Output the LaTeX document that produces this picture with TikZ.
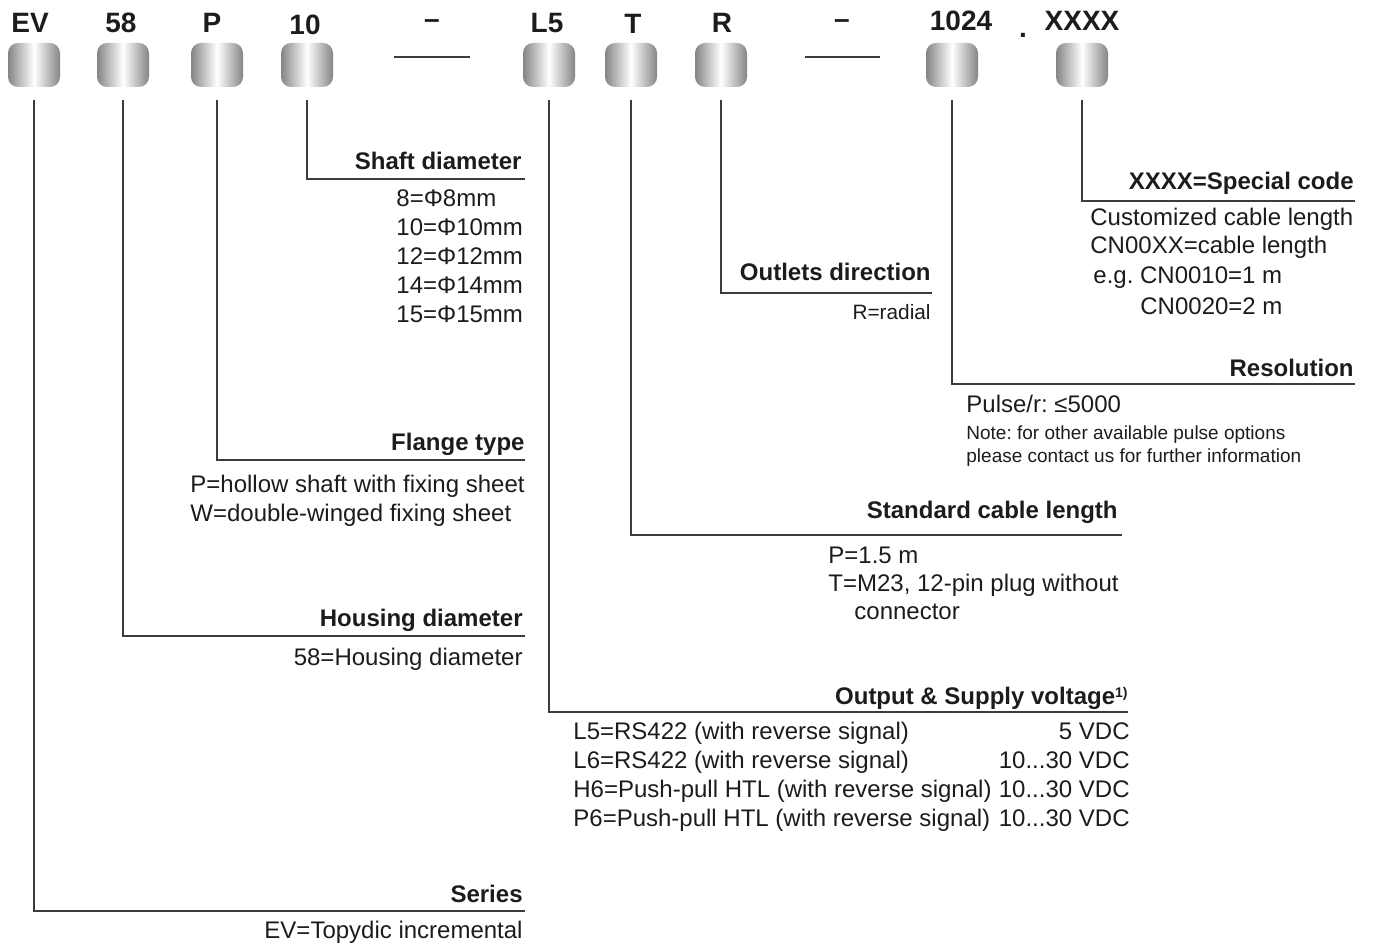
\documentclass[tikz,border=0pt]{standalone}
\usepackage{fontspec}
\setmainfont{Liberation Sans}
\frenchspacing
\definecolor{txt}{HTML}{1C1C1C}
\definecolor{ln}{HTML}{3C3C3C}
\definecolor{pill}{HTML}{858585}
\begin{document}
\begin{tikzpicture}[x=0.5pt,y=-0.5pt,
  pillbox/.style={rounded corners=5pt,minimum width=26pt,minimum height=22pt,inner sep=0pt,
    left color=pill,right color=pill,middle color=white,draw=none},
  code/.style={font=\fontsize{14}{16}\selectfont\bfseries,text=txt,inner sep=0pt,anchor=base},
  title/.style={font=\fontsize{12}{14}\selectfont\bfseries,text=txt,inner sep=0pt,anchor=base east},
  body/.style={font=\fontsize{12}{14}\selectfont,text=txt,inner sep=0pt,anchor=base west},
  bodyr/.style={font=\fontsize{12}{14}\selectfont,text=txt,inner sep=0pt,anchor=base east},
  small/.style={font=\fontsize{9.5}{11}\selectfont,text=txt,inner sep=0pt,anchor=base west},
  smallr/.style={font=\fontsize{10.4}{12}\selectfont,text=txt,inner sep=0pt,anchor=base east},
  conn/.style={draw=ln,line width=1pt},
  sep/.style={draw=ln,line width=1.2pt}]
\useasboundingbox (0,0) rectangle (1374,945);
% pills
\node[pillbox] (ev) at (34,65) {};
\node[pillbox] (hd) at (123,65) {};
\node[pillbox] (fl) at (217,65) {};
\node[pillbox] (sd) at (307,65) {};
\node[pillbox] (out) at (549,65) {};
\node[pillbox] (cab) at (631,65) {};
\node[pillbox] (dir) at (721,65) {};
\node[pillbox] (res) at (952,65) {};
\node[pillbox] (spc) at (1082,65) {};
% codes
\node[code] (cev) at (30,33) {EV};
\node[code] (chd) at (121,33) {58};
\node[code] (cfl) at (212,33) {P};
\node[code] (csd) at (305,35) {10};
\node[code] (cd1) at (432,29) {–};
\node[code] (cout) at (547,33) {L5};
\node[code] (ccab) at (633,34) {T};
\node[code] (cdir) at (722,33) {R};
\node[code] (cd2) at (842,29) {–};
\node[code] (cres) at (961,31) {1024};
\node[code] (cdot) at (1023,38) {.};
\node[code] (cspc) at (1082,31) {XXXX};
% separator lines
\coordinate (s1a) at (394,57); \coordinate (s1b) at (470,57);
\coordinate (s2a) at (805,57); \coordinate (s2b) at (880,57);
\draw[sep] (s1a) -- (s1b);
\draw[sep] (s2a) -- (s2b);
% line ends
\coordinate (eev) at (525,911);
\coordinate (ehd) at (525,636);
\coordinate (efl) at (525,460);
\coordinate (esd) at (525,179);
\coordinate (eout) at (1128,712);
\coordinate (ecab) at (1122,535);
\coordinate (edir) at (932,293);
\coordinate (eres) at (1355,384);
\coordinate (espc) at (1355,201);
\foreach \p in {ev,hd,fl,sd,out,cab,dir,res,spc}
  \draw[conn] (\p.south) ++(0,13) |- (e\p);
% Shaft diameter
\node[title] (tsd) at (522,170) {Shaft diameter};
\node[body] (sd1) at (396,207) {8=Φ8mm};
\node[body] (sd2) at (396,236) {10=Φ10mm};
\node[body] (sd3) at (396,265) {12=Φ12mm};
\node[body] (sd4) at (396,294) {14=Φ14mm};
\node[body] (sd5) at (396,323) {15=Φ15mm};
% Flange type
\node[title] (tfl) at (525,451) {Flange type};
\node[body] (fl1) at (190,493) {P=hollow shaft with fixing sheet};
\node[body] (fl2) at (190,522) {W=double-winged fixing sheet};
% Housing
\node[title] (thd) at (523,626) {Housing diameter};
\node[bodyr] (hd1) at (523,665) {58=Housing diameter};
% Series
\node[title] (tev) at (523,902) {Series};
\node[bodyr] (ev1) at (523,938) {EV=Topydic incremental};
% Outlets
\node[title] (tdir) at (931,281) {Outlets direction};
\node[smallr] (dir1) at (931,320) {R=radial};
% Special code
\node[title] (tspc) at (1354,190) {XXXX=Special code};
\node[body] (spc1) at (1090,226) {Customized cable length};
\node[body] (spc2) at (1090,254) {CN00XX=cable length};
\node[body] (spc3) at (1093,284) {e.g. CN0010=1 m};
\node[body] (spc4) at (1140,315) {CN0020=2 m};
% Resolution
\node[title] (tres) at (1354,377) {Resolution};
\node[body] (res1) at (966,413) {Pulse/r: ≤5000};
\node[small] (res2) at (966,440) {Note: for other available pulse options};
\node[small] (res3) at (966,463) {please contact us for further information};
% Standard cable length
\node[title] (tcab) at (1118,519) {Standard cable length};
\node[body] (cab1) at (828,563) {P=1.5 m};
\node[body] (cab2) at (828,591) {T=M23, 12-pin plug without};
\node[body] (cab3) at (854,619) {connector};
% Output
\node[title] (tout) at (1128,704) {Output \& Supply voltage{\fontsize{7}{8}\selectfont\raisebox{0.9ex}{1)}}};
\node[body] (o1) at (573,739) {L5=RS422 (with reverse signal)};
\node[body] (o2) at (573,768) {L6=RS422 (with reverse signal)};
\node[body] (o3) at (573,797) {H6=Push-pull HTL (with reverse signal)};
\node[body] (o4) at (573,826) {P6=Push-pull HTL (with reverse signal)};
\node[bodyr] (v1) at (1130,739) {5 VDC};
\node[bodyr] (v2) at (1130,768) {10...30 VDC};
\node[bodyr] (v3) at (1130,797) {10...30 VDC};
\node[bodyr] (v4) at (1130,826) {10...30 VDC};
\end{tikzpicture}
\end{document}
